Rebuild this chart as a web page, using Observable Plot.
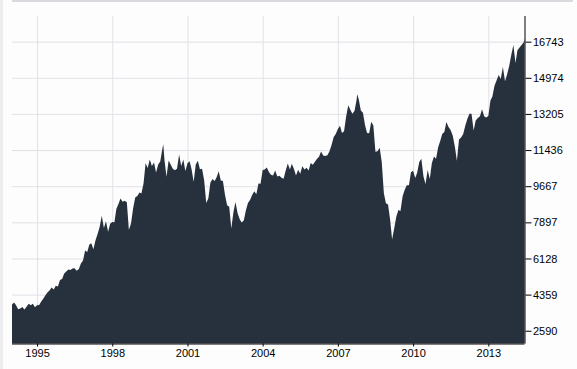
<!DOCTYPE html>
<html>
<head>
<meta charset="utf-8">
<script src="https://cdn.jsdelivr.net/npm/d3@7"></script>
<script src="https://cdn.jsdelivr.net/npm/@observablehq/plot@0.6"></script>
<style>
  html, body { margin: 0; padding: 0; background: #fdfdfd; width: 577px; height: 369px; overflow: hidden; }
  #wrap { position: relative; width: 577px; height: 369px; }
  #leftstrip { position: absolute; left: 0; top: 0; width: 3px; height: 369px; background: #ececee; }
  #topline { position: absolute; left: 12px; top: 0; width: 561px; height: 2px; background: #d9d9de; }
  #chart { position: absolute; left: 0; top: 0; }
</style>
</head>
<body>
<div id="wrap">
  <div id="chart"></div>
  <div id="leftstrip"></div>
  <div id="topline"></div>
</div>
<script>
// Month-end closes, first value = level at start of Jan 1994, then Jan 1994 .. May 2014
const seriesStart = "1994-01-01";
const monthlyCloses = [
  3880,
  // 1994
  3978, 3832, 3636, 3682, 3758, 3625, 3765, 3913, 3843, 3908, 3739, 3834,
  // 1995
  3844, 4011, 4158, 4321, 4465, 4556, 4709, 4611, 4789, 4756, 5075, 5117,
  // 1996
  5395, 5486, 5588, 5569, 5643, 5655, 5529, 5616, 5882, 6029, 6522, 6448,
  // 1997
  6813, 6878, 6584, 7009, 7331, 7673, 8223, 7622, 7945, 7442, 7823, 7908,
  // 1998
  7907, 8546, 8800, 9063, 8900, 8952, 8883, 7539, 7843, 8592, 9117, 9181,
  // 1999
  9359, 9307, 9786, 10789, 10560, 10971, 10655, 10829, 10337, 10729, 10878, 11497,
  // 2000
  10941, 10128, 10922, 10734, 10522, 10448, 10522, 11215, 10651, 10971, 10415, 10788,
  // 2001
  10887, 10495, 9879, 10735, 10912, 10502, 10523, 9950, 8848, 9075, 9852, 10021,
  // 2002
  9920, 10106, 10404, 9946, 9925, 9243, 8737, 8664, 7592, 8397, 8896, 8342,
  // 2003
  8054, 7891, 7992, 8480, 8850, 8985, 9234, 9416, 9275, 9801, 9782, 10454,
  // 2004
  10488, 10584, 10358, 10226, 10188, 10435, 10140, 10174, 10080, 10027, 10428, 10783,
  // 2005
  10490, 10766, 10504, 10193, 10467, 10275, 10641, 10482, 10569, 10440, 10806, 10718,
  // 2006
  10865, 10993, 11109, 11367, 11168, 11150, 11186, 11381, 11679, 12081, 12222, 12463,
  // 2007
  12622, 12269, 12354, 13063, 13628, 13409, 13212, 13358, 13896, 13930, 13372, 13265,
  // 2008
  12650, 12266, 12263, 12820, 12638, 11350, 11378, 11544, 10851, 9325, 8829, 8776,
  // 2009
  8001, 7063, 7609, 8168, 8500, 8447, 9172, 9496, 9712, 9713, 10345, 10428,
  // 2010
  10067, 10325, 10857, 11009, 10137, 9774, 10466, 10015, 10788, 11118, 11006, 11578,
  // 2011
  11892, 12226, 12320, 12811, 12570, 12414, 12143, 11614, 10913, 11955, 12046, 12218,
  // 2012
  12633, 12952, 13212, 13214, 12393, 12880, 13009, 13091, 13437, 13096, 13026, 13104,
  // 2013
  13861, 14054, 14579, 14840, 15116, 14910, 15500, 14810, 15130, 15546, 16086, 16577,
  // 2014
  15699, 16322, 16458, 16581, 16717
];
// Intra-month extremes visible in the picture
const extraDates  = ["1998-08-31", "2000-01-14", "2007-10-09", "2009-03-06", "2014-06-12"];
const extraValues = [7539, 11723, 14165, 7150, 16900];

const xTickYears = [1995, 1998, 2001, 2004, 2007, 2010, 2013];
const yTicks = [2590, 4359, 6128, 7897, 9667, 11436, 13205, 14974, 16743];
const yMin = 1965, yMax = 18000;

const start = new Date(seriesStart + "T00:00:00Z");
const data = monthlyCloses.map((v, i) => ({date: d3.utcMonth.offset(start, i), value: v}))
  .concat(extraDates.map((d, i) => ({date: new Date(d + "T00:00:00Z"), value: extraValues[i]})))
  .sort((a, b) => a.date - b.date);
const xEnd = data[data.length - 1].date;
const xTicks = xTickYears.map(y => new Date(Date.UTC(y, 0, 1)));

const chart = Plot.plot({
  width: 577,
  height: 369,
  marginLeft: 12,
  marginRight: 52.5,
  marginTop: 16,
  marginBottom: 25.5,
  x: {type: "utc", domain: [start, xEnd], label: null},
  y: {domain: [yMin, yMax], label: null},
  style: {fontFamily: "Arial, 'Liberation Sans', sans-serif", fontSize: "11px", color: "#000", background: "transparent"},
  marks: [
    Plot.gridX(xTicks, {stroke: "#e1e1e8", strokeOpacity: 1}),
    Plot.gridY(yTicks, {stroke: "#e1e1e8", strokeOpacity: 1}),
    Plot.areaY(data, {x: "date", y1: yMin, y2: "value", fill: "#27313d"}),
    Plot.ruleY([yMin], {stroke: "#000"}),
    Plot.ruleX([xEnd], {stroke: "#000"}),
    Plot.axisX(xTicks, {tickFormat: d3.utcFormat("%Y"), tickSize: 3, tickPadding: 2, stroke: "#000", fill: "#000", label: null}),
    Plot.axisY(yTicks, {anchor: "right", tickSize: 6, tickPadding: 2, tickFormat: d => String(d), stroke: "#000", fill: "#000", label: null})
  ]
});
document.getElementById("chart").appendChild(chart);
</script>
</body>
</html>
